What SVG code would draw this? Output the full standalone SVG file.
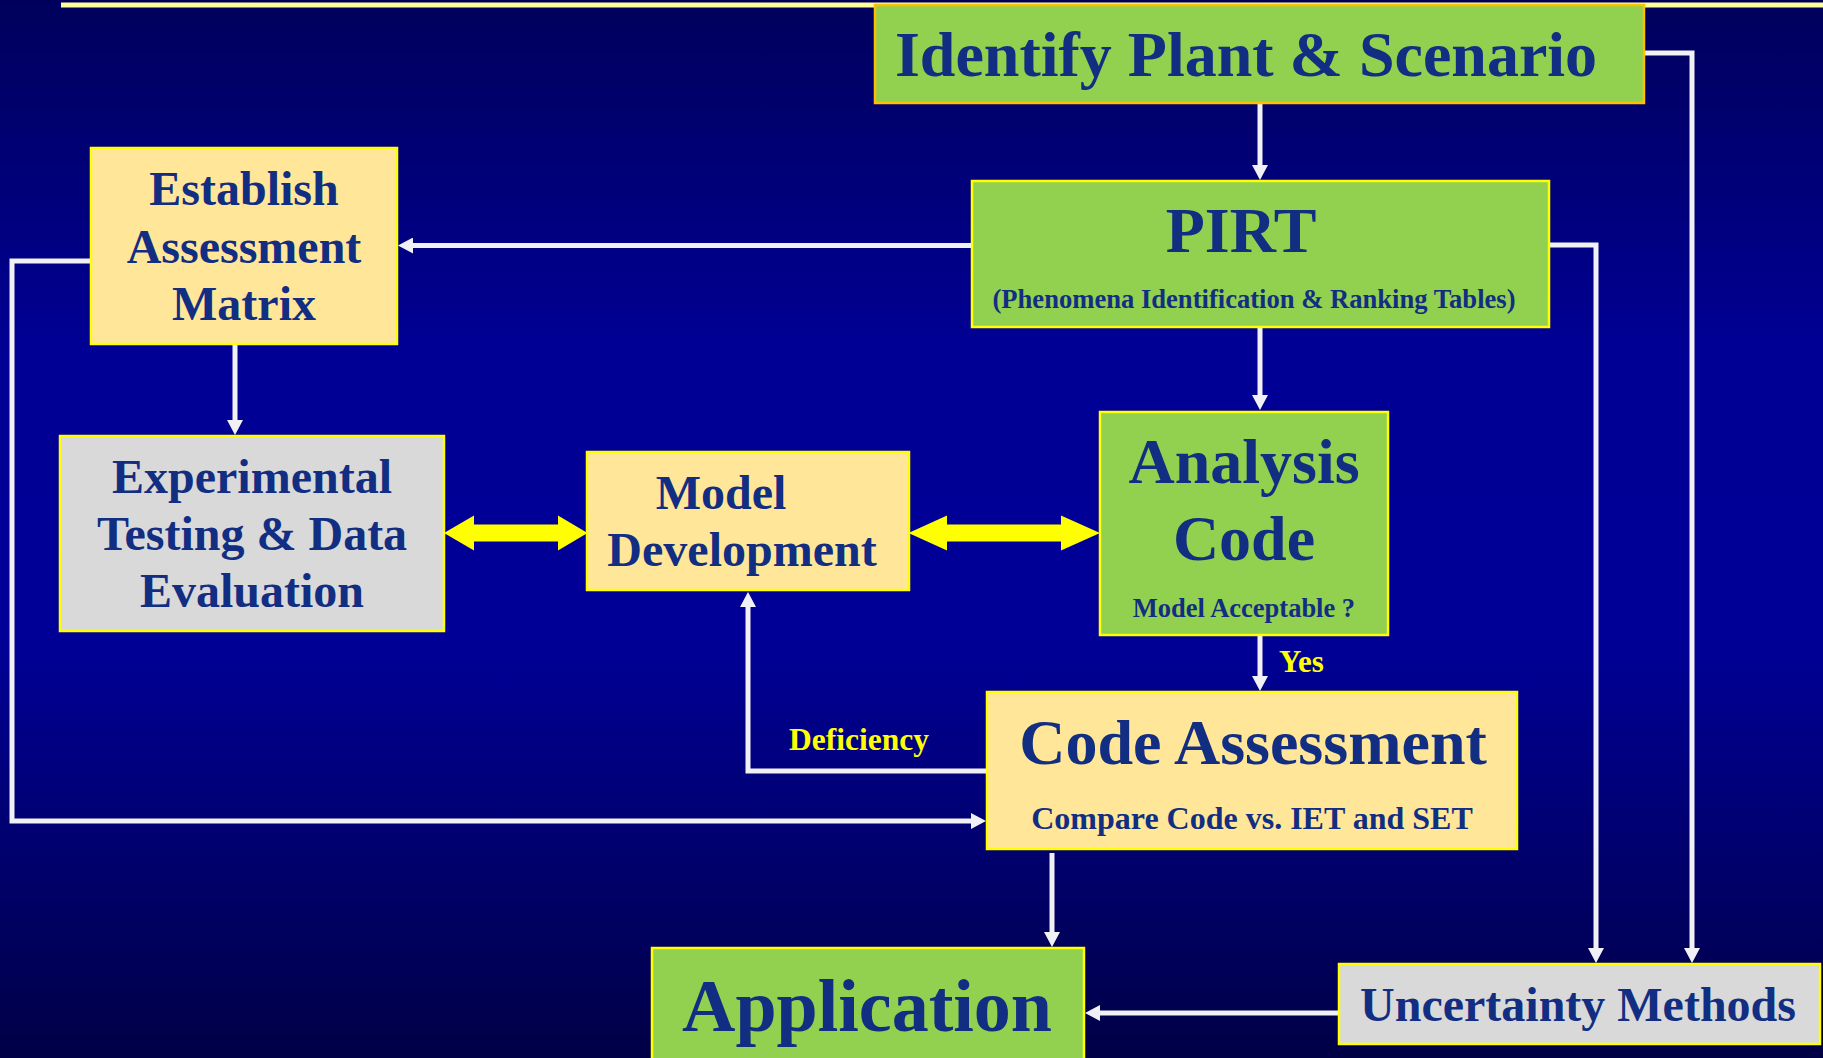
<svg xmlns="http://www.w3.org/2000/svg" width="1823" height="1058" viewBox="0 0 1823 1058">
<defs>
<linearGradient id="bg" x1="0" y1="0" x2="0" y2="1">
<stop offset="0" stop-color="#00005c"/>
<stop offset="0.33" stop-color="#000094"/>
<stop offset="0.6" stop-color="#000098"/>
<stop offset="1" stop-color="#000046"/>
</linearGradient>
<marker id="ah" viewBox="0 -8 15 16" markerUnits="userSpaceOnUse" markerWidth="15" markerHeight="16" refX="1" refY="0" orient="auto">
<path d="M0,-8 L15,0 L0,8 Z" fill="#f0f0f5"/>
</marker>
<style>
.box{stroke-width:2.5}
.green{fill:#92d050;stroke:#ffff00}
.cream{fill:#ffe699;stroke:#ffff00}
.grey{fill:#d9d9d9;stroke:#ffff00}
.t{font-family:"Liberation Serif","Times New Roman",serif;font-weight:bold;fill:#122e82}
.lab{font-family:"Liberation Serif","Times New Roman",serif;font-weight:bold;fill:#ffff00}
.c{text-anchor:middle}
.con{fill:none;stroke:#f0f0f5;stroke-width:5;marker-end:url(#ah)}
.dbl{fill:#ffff00}
</style>
</defs>
<rect x="0" y="0" width="1823" height="1058" fill="url(#bg)"/>
<line x1="61" y1="5" x2="1823" y2="5" stroke="#ffff99" stroke-width="5"/>

<g id="connectors">
<path class="con" d="M1260,103 V166"/>
<path class="con" d="M972,245.5 H412"/>
<path class="con" d="M235,344 V421"/>
<path class="con" d="M1260,327 V396"/>
<path class="con" d="M1260,635 V677"/>
<path class="con" d="M987,771 H748 V606"/>
<path class="con" d="M91,261 H12 V821 H972"/>
<path class="con" d="M1052,853 V933"/>
<path class="con" d="M1339,1013 H1099"/>
<path class="con" d="M1644,53 H1692 V949"/>
<path class="con" d="M1548,245 H1596 V949"/>
<polygon class="dbl" points="444,533 474,515.5 474,524.5 558,524.5 558,515.5 587.5,533 558,550.5 558,541.5 474,541.5 474,550.5"/>
<polygon class="dbl" points="908.5,533 947,515.5 947,524.5 1061,524.5 1061,515.5 1100,533 1061,550.5 1061,541.5 947,541.5 947,550.5"/>
<text class="lab" x="1279" y="672" font-size="31">Yes</text>
<text class="lab" x="789" y="750" font-size="31.5">Deficiency</text>
</g>

<g id="identify">
<rect class="box green" x="875" y="5" width="769" height="98" style="stroke:#ffc000"/>
<text class="t c" x="1246" y="76" font-size="64">Identify Plant &amp; Scenario</text>
</g>

<g id="pirt">
<rect class="box green" x="972" y="181" width="577" height="146"/>
<text class="t c" x="1241" y="252" font-size="64">PIRT</text>
<text class="t c" x="1254" y="308" font-size="26.6">(Phenomena Identification &amp; Ranking Tables)</text>
</g>

<g id="establish">
<rect class="box cream" x="91" y="148" width="306" height="196"/>
<text class="t c" x="244" y="205" font-size="48">Establish</text>
<text class="t c" x="244" y="263" font-size="48">Assessment</text>
<text class="t c" x="244" y="320" font-size="48">Matrix</text>
</g>

<g id="experimental">
<rect class="box grey" x="60" y="436" width="384" height="195"/>
<text class="t c" x="252" y="493" font-size="48">Experimental</text>
<text class="t c" x="252" y="550" font-size="48">Testing &amp; Data</text>
<text class="t c" x="252" y="607" font-size="48">Evaluation</text>
</g>

<g id="model">
<rect class="box cream" x="587" y="452" width="322" height="138"/>
<text class="t c" x="721" y="509" font-size="48">Model</text>
<text class="t c" x="742" y="566" font-size="48">Development</text>
</g>

<g id="analysis">
<rect class="box green" x="1100" y="412" width="288" height="223"/>
<text class="t c" x="1244" y="483" font-size="64">Analysis</text>
<text class="t c" x="1244" y="560" font-size="64">Code</text>
<text class="t c" x="1244" y="617" font-size="26.5">Model Acceptable ?</text>
</g>

<g id="code-assessment">
<rect class="box cream" x="987" y="692" width="530" height="157"/>
<text class="t c" x="1253" y="764" font-size="64">Code Assessment</text>
<text class="t c" x="1252" y="829" font-size="32">Compare Code vs. IET and SET</text>
</g>

<g id="application">
<rect class="box green" x="652" y="948" width="432" height="125"/>
<text class="t c" x="867" y="1031" font-size="74">Application</text>
</g>

<g id="uncertainty">
<rect class="box grey" x="1339" y="964" width="481" height="80"/>
<text class="t c" x="1578" y="1021" font-size="48">Uncertainty Methods</text>
</g>
</svg>
